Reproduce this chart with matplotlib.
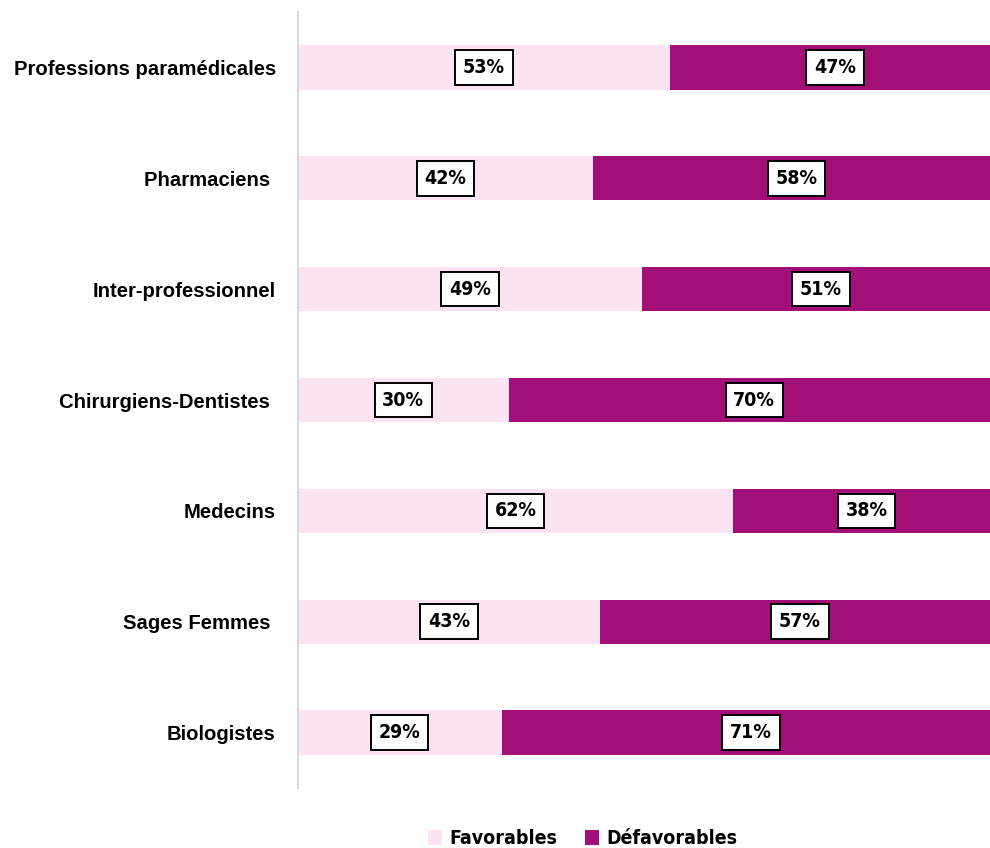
import matplotlib.pyplot as plt
from matplotlib.patches import Patch

categories = [
    "Professions paramédicales",
    "Pharmaciens ",
    "Inter-professionnel",
    "Chirurgiens-Dentistes ",
    "Medecins",
    "Sages Femmes ",
    "Biologistes",
]
favorables = [53, 42, 49, 30, 62, 43, 29]
defavorables = [47, 58, 51, 70, 38, 57, 71]

col_fav = "#FBE3F4"
col_def = "#A30F78"

plt.rcParams["font.family"] = ["Liberation Sans", "DejaVu Sans"]
narrow = dict(family="DejaVu Sans", stretch="condensed", weight="bold")

fig = plt.figure(figsize=(9.9, 8.48), dpi=100)
# the plot area runs a little past the right edge of the picture
ax = fig.add_axes([298 / 990, 60 / 848, 702 / 990, 776 / 848])

y = list(range(len(categories)))
ax.barh(y, favorables, height=0.4, color=col_fav, zorder=2)
ax.barh(y, defavorables, left=favorables, height=0.4, color=col_def, zorder=2)

box = dict(boxstyle="square,pad=0.4", facecolor="white", edgecolor="black", linewidth=1.4)
for i in y:
    f = favorables[i]
    d = defavorables[i]
    ax.text(f / 2, i, f"{f}%", ha="center", va="center", fontsize=14,
            bbox=box, zorder=3, **narrow)
    ax.text(f + d / 2, i, f"{d}%", ha="center", va="center", fontsize=14,
            bbox=box, zorder=3, **narrow)

ax.set_xlim(0, 100)
ax.set_ylim(len(categories) - 0.5, -0.5)
ax.set_yticks(y)
ax.set_yticklabels(categories, fontsize=14.6, fontweight="bold")
ax.tick_params(axis="y", length=0, pad=16)
ax.set_xticks([])
for s in ["top", "right", "bottom"]:
    ax.spines[s].set_visible(False)
ax.spines["left"].set_color("#D9D9D9")
ax.spines["left"].set_linewidth(1.5)

handles = [Patch(facecolor=col_fav, label="Favorables"),
           Patch(facecolor=col_def, label="Défavorables")]
fig.legend(handles=handles, loc="center", bbox_to_anchor=(583 / 990, 9 / 848),
           ncol=2, frameon=False, handlelength=0.7, handleheight=0.8,
           handletextpad=0.4, columnspacing=1.4,
           prop={"family": "DejaVu Sans", "stretch": "condensed",
                 "weight": "bold", "size": 14})

fig.savefig("out.png", dpi=100)
